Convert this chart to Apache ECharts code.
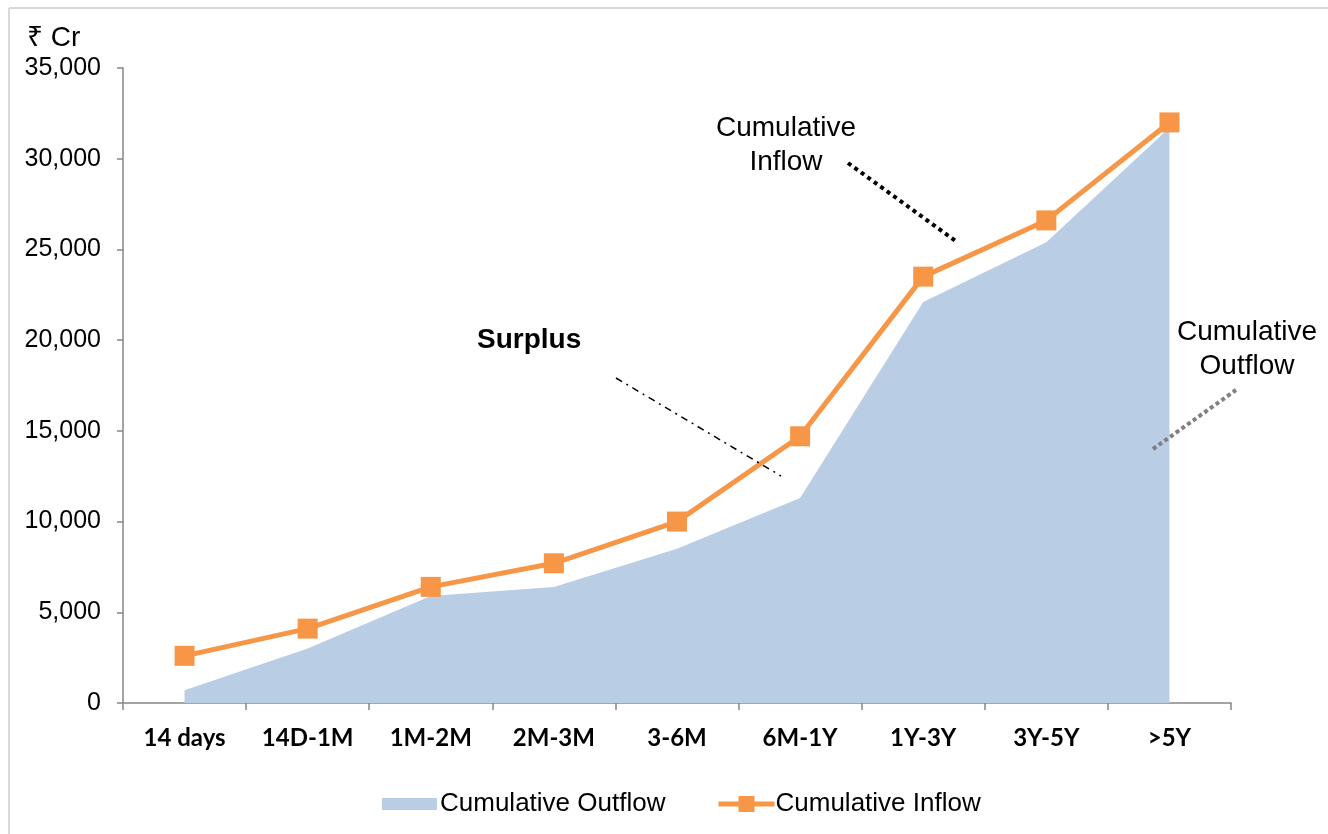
<!DOCTYPE html>
<html>
<head>
<meta charset="utf-8">
<title>Cumulative Inflow vs Outflow</title>
<script src="https://cdn.jsdelivr.net/npm/echarts@6/dist/echarts.min.js"></script>
<style>
  html, body { margin: 0; padding: 0; background: #ffffff; }
  #chart { width: 1328px; height: 834px; }
</style>
</head>
<body>
<div id="chart"></div>
<script>
// Maturity buckets
const buckets = ['14 days', '14D-1M', '1M-2M', '2M-3M', '3-6M', '6M-1Y', '1Y-3Y', '3Y-5Y', '>5Y'];
// Cumulative amounts, ₹ Cr
const cumulativeOutflow = [700, 3000, 5900, 6400, 8500, 11300, 22100, 25400, 31700];
const cumulativeInflow = [2600, 4100, 6400, 7700, 10000, 14700, 23500, 26600, 32000];
// Value axis ticks
const yMin = 0;
const yMax = 35000;
const yStep = 5000;

const chart = echarts.init(document.getElementById('chart'), null, { renderer: 'canvas' });

const sans = '"Liberation Sans", Arial, sans-serif';
const axisGray = '#868686';

chart.setOption({
  backgroundColor: '#ffffff',
  animation: false,
  grid: { left: 123, right: 97, top: 68, bottom: 131, containLabel: false },
  legend: [
    {
      data: [{ name: 'Cumulative Outflow', icon: 'rect' }],
      left: 377, top: 786,
      itemWidth: 55, itemHeight: 12, itemGap: 4,
      textStyle: { fontFamily: sans, fontSize: 26, color: '#000000', padding: [0, 0, 0, -2] }
    },
    {
      data: ['Cumulative Inflow'],
      left: 711, top: 786,
      itemWidth: 56, itemHeight: 20, itemGap: 4,
      lineStyle: { width: 5 },
      textStyle: { fontFamily: sans, fontSize: 26, color: '#000000', padding: [0, 0, 0, -4] }
    }
  ],
  xAxis: {
    type: 'category',
    data: buckets,
    boundaryGap: true,
    axisLine: { lineStyle: { color: axisGray, width: 1.5 } },
    axisTick: { show: true, interval: 0, length: 7, lineStyle: { color: axisGray, width: 1.5 } },
    axisLabel: {
      interval: 0, margin: 23,
      fontFamily: 'Lato, "Open Sans", sans-serif', fontWeight: 'bold', fontSize: 24, color: '#000000'
    },
    splitLine: { show: false }
  },
  yAxis: {
    type: 'value',
    min: yMin, max: yMax, interval: yStep,
    name: '₹ Cr',
    nameLocation: 'end',
    nameGap: 16,
    nameTextStyle: { fontFamily: sans, fontSize: 28, color: '#000000', align: 'left', padding: [0, 0, 0, -96] },
    axisLine: { show: true, lineStyle: { color: axisGray, width: 1.5 } },
    axisTick: { show: true, inside: false, length: 6, lineStyle: { color: axisGray, width: 1.5 } },
    axisLabel: {
      margin: 22,
      fontFamily: sans, fontSize: 25, color: '#000000',
      formatter: v => v.toLocaleString('en-US')
    },
    splitLine: { show: false }
  },
  series: [
    {
      name: 'Cumulative Outflow',
      type: 'line',
      data: cumulativeOutflow,
      symbol: 'none',
      lineStyle: { width: 0 },
      itemStyle: { color: '#b9cde5' },
      areaStyle: { color: '#b9cde5', opacity: 1 },
      z: 1
    },
    {
      name: 'Cumulative Inflow',
      type: 'line',
      data: cumulativeInflow,
      symbol: 'rect',
      symbolSize: 20,
      itemStyle: { color: '#f79646' },
      lineStyle: { color: '#f79646', width: 5 },
      z: 3
    }
  ],
  graphic: [
    // chart frame
    { type: 'line', shape: { x1: 9, y1: 8, x2: 1328, y2: 8 }, style: { stroke: '#d9d9d9', lineWidth: 2 } },
    { type: 'line', shape: { x1: 9, y1: 8, x2: 9, y2: 834 }, style: { stroke: '#d9d9d9', lineWidth: 2 } },
    // callouts
    {
      type: 'text', x: 786, y: 111, z: 10,
      style: { text: 'Cumulative\nInflow', align: 'center', fontFamily: sans, fontSize: 28, lineHeight: 34, fill: '#000000' }
    },
    {
      type: 'line', z: 10,
      shape: { x1: 848, y1: 163, x2: 957, y2: 242 },
      style: { stroke: '#000000', lineWidth: 4, lineDash: [4, 4] }
    },
    {
      type: 'text', x: 477, y: 326, z: 10,
      style: { text: 'Surplus', fontFamily: sans, fontSize: 28, fontWeight: 'bold', fill: '#000000' }
    },
    {
      type: 'line', z: 10,
      shape: { x1: 616, y1: 378, x2: 781, y2: 476 },
      style: { stroke: '#000000', lineWidth: 1.5, lineDash: [7, 5, 2, 5] }
    },
    {
      type: 'text', x: 1247, y: 315, z: 10,
      style: { text: 'Cumulative\nOutflow', align: 'center', fontFamily: sans, fontSize: 28, lineHeight: 34, fill: '#000000' }
    },
    {
      type: 'line', z: 10,
      shape: { x1: 1153, y1: 449, x2: 1236, y2: 390 },
      style: { stroke: '#808080', lineWidth: 4, lineDash: [4, 3] }
    }
  ]
});
</script>
</body>
</html>
